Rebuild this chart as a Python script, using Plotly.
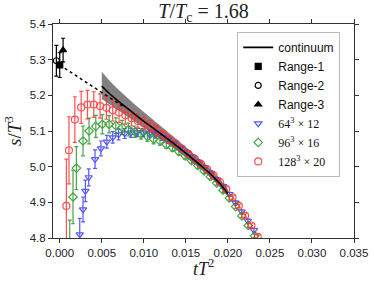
import plotly.graph_objects as go

# continuum extrapolation line and band
cont_x = [0.005, 0.006, 0.007, 0.008, 0.009, 0.010, 0.011, 0.012, 0.013, 0.014,
          0.015, 0.016, 0.017, 0.018, 0.019, 0.020]
cont_y = [5.226, 5.203, 5.183, 5.164, 5.145, 5.127, 5.110, 5.093, 5.075, 5.057,
          5.038, 5.019, 4.999, 4.978, 4.954, 4.925]
band_up = [0.040, 0.036, 0.033, 0.030, 0.028, 0.026, 0.024, 0.022, 0.020, 0.018,
           0.017, 0.016, 0.015, 0.014, 0.013, 0.012]
band_lo = [0.036, 0.030, 0.026, 0.022, 0.020, 0.018, 0.016, 0.015, 0.014, 0.013,
           0.012, 0.011, 0.011, 0.010, 0.010, 0.010]

dash_x = [0.0, 0.0076]
dash_y = [5.285, 5.168]

# continuum-extrapolated t->0 values
r1_x, r1_y, r1_e = [0.0], [5.285], [0.035]
r2_x, r2_y, r2_e = [-0.0004], [5.297], [0.043]
r3_x, r3_y, r3_e = [0.0004], [5.327], [0.033]

# 64^3 x 12
b_x = [0.00238, 0.00277, 0.00305, 0.00345, 0.0042, 0.0049, 0.0056, 0.0063, 0.0070,
       0.00773, 0.00846, 0.0092, 0.00993, 0.01066, 0.01139, 0.01212, 0.01286, 0.01359,
       0.01432, 0.01505, 0.01578, 0.01652, 0.01725, 0.01798, 0.01871, 0.01944, 0.02018,
       0.02091, 0.02164, 0.02237, 0.0231]
b_y = [4.810, 4.880, 4.932, 4.970, 5.021, 5.051, 5.070, 5.082, 5.090,
       5.093, 5.095, 5.096, 5.095, 5.093, 5.090, 5.083, 5.075, 5.064,
       5.052, 5.040, 5.027, 5.013, 4.998, 4.982, 4.964, 4.945, 4.923,
       4.899, 4.874, 4.848, 4.822]
b_e = [0.045, 0.035, 0.030, 0.024, 0.026, 0.021, 0.018, 0.016, 0.015,
       0.014, 0.013, 0.012, 0.011, 0.010, 0.010, 0.009, 0.009, 0.008,
       0.008, 0.007, 0.007, 0.007, 0.006, 0.006, 0.006, 0.006, 0.005,
       0.005, 0.005, 0.005, 0.005]

# 96^3 x 16
g_x = [0.00119, 0.00158, 0.00198, 0.00277, 0.00349, 0.00429, 0.00507, 0.00587, 0.00667,
       0.00742, 0.00817, 0.00892, 0.00967, 0.01042, 0.01117, 0.01192, 0.01267, 0.01342,
       0.01417, 0.01492, 0.01567, 0.01642, 0.01717, 0.01792, 0.01867, 0.01942, 0.02017,
       0.02092, 0.02167, 0.02242, 0.02317]
g_y = [4.740, 4.915, 4.996, 5.072, 5.100, 5.113, 5.119, 5.119, 5.115,
       5.110, 5.104, 5.098, 5.092, 5.085, 5.077, 5.072, 5.062, 5.053,
       5.042, 5.030, 5.017, 5.003, 4.988, 4.972, 4.954, 4.934, 4.912,
       4.888, 4.862, 4.835, 4.806]
g_e = [0.110, 0.075, 0.060, 0.042, 0.036, 0.031, 0.027, 0.024, 0.022,
       0.020, 0.018, 0.016, 0.015, 0.014, 0.013, 0.012, 0.011, 0.010,
       0.009, 0.009, 0.008, 0.008, 0.007, 0.007, 0.006, 0.006, 0.006,
       0.005, 0.005, 0.005, 0.005]

# 128^3 x 20
r_x = [0.00079, 0.0011, 0.0018, 0.00255, 0.0033, 0.00405, 0.0048, 0.00555, 0.0063,
       0.00705, 0.0078, 0.00855, 0.0093, 0.01005, 0.0108, 0.01155, 0.0123, 0.01305,
       0.0138, 0.01455, 0.0153, 0.01605, 0.0168, 0.01755, 0.0183, 0.01905, 0.0198,
       0.02055, 0.0213, 0.02205, 0.0228, 0.02355]
r_y = [4.890, 5.046, 5.132, 5.166, 5.174, 5.174, 5.170, 5.165, 5.158,
       5.152, 5.144, 5.136, 5.128, 5.121, 5.113, 5.101, 5.089, 5.076,
       5.064, 5.050, 5.036, 5.022, 5.007, 4.992, 4.975, 4.957, 4.937,
       4.914, 4.890, 4.863, 4.835, 4.803]
r_e = [0.131, 0.094, 0.064, 0.045, 0.040, 0.036, 0.034, 0.032, 0.030,
       0.028, 0.025, 0.022, 0.020, 0.018, 0.016, 0.014, 0.012, 0.011,
       0.010, 0.009, 0.008, 0.008, 0.007, 0.007, 0.006, 0.006, 0.006,
       0.005, 0.005, 0.005, 0.005, 0.005]

BLUE = "rgb(60,60,255)"
GREEN = "rgb(40,150,40)"
RED = "rgb(255,50,50)"
SERIF = "Liberation Serif"
SANS = "Liberation Sans"

fig = go.Figure()

# band
fig.add_trace(go.Scatter(
    x=cont_x + cont_x[::-1],
    y=[y + u for y, u in zip(cont_y, band_up)] + [y - l for y, l in zip(cont_y, band_lo)][::-1],
    fill="toself", fillcolor="rgba(115,115,115,0.9)", line=dict(width=0),
    mode="lines", showlegend=False, hoverinfo="skip"))

def series(x, y, e, name, color, symbol, size=6.5, op=0.85):
    fig.add_trace(go.Scatter(
        x=x, y=y, mode="markers", name=name, opacity=op,
        marker=dict(symbol=symbol, size=size, color=color, line=dict(color=color, width=1.2)),
        error_y=dict(type="data", array=e, visible=True, color=color, thickness=1.2, width=2)))

series(b_x, b_y, b_e, "<span style='font-family:Liberation Serif'>64<sup>3</sup> × 12</span>",
       BLUE, "triangle-down-open")
series(g_x, g_y, g_e, "<span style='font-family:Liberation Serif'>96<sup>3</sup> × 16</span>",
       GREEN, "diamond-open")
series(r_x, r_y, r_e, "<span style='font-family:Liberation Serif'>128<sup>3</sup> × 20</span>",
       RED, "circle-open", 7)

# dashed extrapolation
fig.add_trace(go.Scatter(x=dash_x, y=dash_y, mode="lines",
                         line=dict(color="black", width=1.5, dash="dot"),
                         showlegend=False, hoverinfo="skip"))
# continuum line
fig.add_trace(go.Scatter(x=cont_x, y=cont_y, mode="lines", name="continuum",
                         line=dict(color="black", width=1.6)))

series(r1_x, r1_y, r1_e, "Range-1", "black", "square", 6, 1)
series(r2_x, r2_y, r2_e, "Range-2", "black", "circle-open", 6, 1)
series(r3_x, r3_y, r3_e, "Range-3", "black", "triangle-up", 6, 1)

# legend order
order = ["continuum", "Range-1", "Range-2", "Range-3"]
for t in fig.data:
    if t.name in order:
        t.legendrank = order.index(t.name) + 1
    elif t.name:
        t.legendrank = 10 + ["64", "96", "128"].index(
            [k for k in ["64", "96", "128"] if ">" + k + "<" in t.name][0])

axis_common = dict(showline=True, linecolor="#333", linewidth=1, mirror="ticks",
                   ticks="outside", ticklen=4, tickcolor="#333", showgrid=False,
                   zeroline=False, automargin=False,
                   tickfont=dict(family=SANS, size=11.5, color="#222"))

fig.update_layout(
    width=374, height=281,
    margin=dict(l=53, r=20, t=24, b=43),
    paper_bgcolor="white", plot_bgcolor="white",
    title=dict(text="<i>T</i>/<i>T</i><sub>c</sub> = 1.68", x=0.5, xref="paper",
               y=0.985, yref="container", yanchor="top", automargin=False,
               font=dict(family=SERIF, size=20, color="#222")),
    xaxis=dict(range=[-0.0008, 0.035], tickvals=[0, 0.005, 0.01, 0.015, 0.02, 0.025, 0.03, 0.035],
               tickformat=".3f", **axis_common),
    yaxis=dict(range=[4.8, 5.4], tickvals=[4.8, 4.9, 5.0, 5.1, 5.2, 5.3, 5.4], tickformat=".1f",
               **axis_common),
    legend=dict(x=0.612, y=0.963, xanchor="left", yanchor="top",
                bgcolor="white", bordercolor="#bbb", borderwidth=1,
                font=dict(family=SANS, size=12, color="#111"),
                tracegroupgap=0, itemwidth=30),
    showlegend=True,
    annotations=[
        dict(text="<i>tT</i><sup>2</sup>", xref="paper", yref="paper", x=0.5, y=0,
             yshift=-29, xanchor="center", yanchor="middle", showarrow=False,
             font=dict(family=SERIF, size=18, color="#222")),
        dict(text="<i>s</i>/<i>T</i><sup>3</sup>", xref="paper", yref="paper", x=0, y=0.5,
             xshift=-40, xanchor="center", yanchor="middle", textangle=-90, showarrow=False,
             font=dict(family=SERIF, size=19, color="#222")),
    ],
)

fig.write_html("out.html", config={"displayModeBar": False},
               post_script="document.body.style.margin='0';")
